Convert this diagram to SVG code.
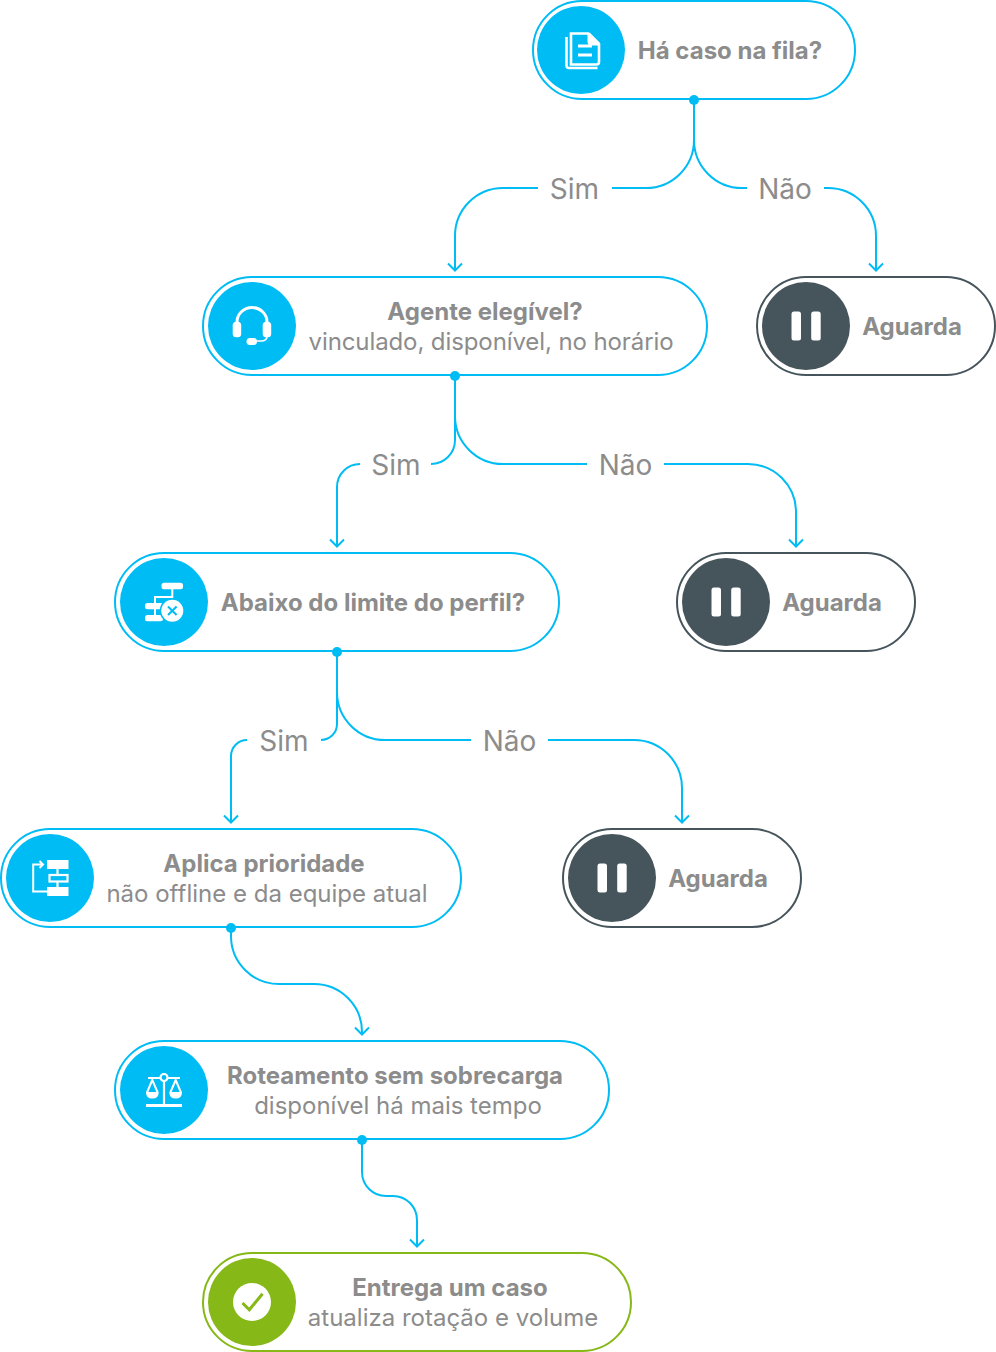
<svg xmlns="http://www.w3.org/2000/svg" width="996" height="1352" viewBox="0 0 996 1352">
<style>
text{font-family:Inter,"Noto Sans","Liberation Sans",sans-serif;fill:#8c8c8c;text-anchor:middle}
.t{font-size:24px;font-weight:700}
.s{font-size:24px;font-weight:400}
.l{font-size:28px;font-weight:400}
.pill{fill:#fff;stroke-width:2}
.b .pill{stroke:#00bcf5}.b .disc{fill:#00bcf5}
.g .pill{stroke:#86b817}.g .disc{fill:#86b817}
.d .pill{stroke:#46545b}.d .disc{fill:#46545b}
.ic{fill:#fff}
.il{fill:none;stroke:#fff;stroke-width:2.600}
#connectors path{fill:none;stroke:#00bcf5;stroke-width:2}
#connectors circle{fill:#00bcf5}
</style>
<defs>
<g id="pause"><rect x="-14.500" y="-14.500" width="9.500" height="29" rx="2.500" class="ic"/><rect x="5.200" y="-14.500" width="9.500" height="29" rx="2.500" class="ic"/></g>
</defs>
<g id="node-fila" class="b">
<rect class="pill" x="533" y="1" width="322" height="98" rx="49"/>
<circle class="disc" cx="581" cy="50" r="44"/>
<path class="il" d="M571 33.500H588.500L599 44V62Q599 64.500 596.500 64.500H571Z"/>
<path class="il" d="M566.500 37V65.500Q566.500 68 569 68H597.500"/>
<path class="ic" d="M587.500 33H590L600 43V45.500H591.500Q587.500 45.500 587.500 41.500Z"/>
<path class="il" d="M578 46H592M578 55H592" style="stroke-width:3"/>
<text class="t" x="730" y="59">Há caso na fila?</text>
</g>
<g id="node-agente" class="b">
<rect class="pill" x="203" y="277" width="504" height="98" rx="49"/>
<circle class="disc" cx="252" cy="326" r="44"/>
<path class="il" d="M237 322A15 14.500 0 0 1 267 322" style="stroke-width:3"/>
<rect class="ic" x="232.700" y="321.700" width="8.500" height="15.500" rx="3.500"/>
<rect class="ic" x="262.700" y="321.700" width="8.500" height="15.500" rx="3.500"/>
<path d="M267 336Q267 341 261 341H254" fill="none" stroke="#fff" stroke-width="1.600"/>
<rect class="ic" x="246.500" y="338" width="10.500" height="7" rx="3.500"/>
<text class="t" x="485" y="320">Agente elegível?</text>
<text class="s" x="491" y="350" style="letter-spacing:-.1px">vinculado, disponível, no horário</text>
</g>
<g id="node-aguarda-1" class="d">
<rect class="pill" x="757" y="277" width="238" height="98" rx="49"/>
<circle class="disc" cx="806" cy="326" r="44"/>
<use href="#pause" x="806" y="326"/>
<text class="t" x="912" y="335">Aguarda</text>
</g>
<g id="node-limite" class="b">
<rect class="pill" x="115" y="553" width="444" height="98" rx="49"/>
<circle class="disc" cx="164" cy="602" r="44"/>
<rect class="ic" x="161.500" y="582.800" width="21.500" height="6.500" rx="2.500"/>
<rect class="ic" x="145" y="603" width="18" height="6.200" rx="2.500"/>
<rect class="ic" x="145" y="615" width="18" height="6.200" rx="2.500"/>
<path d="M172.300 589V597H155V615" fill="none" stroke="#fff" stroke-width="2"/>
<circle cx="172.300" cy="610.700" r="12.500" fill="#00bcf5"/>
<circle cx="172.300" cy="610.700" r="11" fill="#fff"/>
<path d="M168 606.500L176.600 615M176.600 606.500L168 615" fill="none" stroke="#00bcf5" stroke-width="2"/>
<text class="t" x="373" y="611">Abaixo do limite do perfil?</text>
</g>
<g id="node-aguarda-2" class="d">
<rect class="pill" x="677" y="553" width="238" height="98" rx="49"/>
<circle class="disc" cx="726" cy="602" r="44"/>
<use href="#pause" x="726" y="602"/>
<text class="t" x="832" y="611">Aguarda</text>
</g>
<g id="node-prioridade" class="b">
<rect class="pill" x="1" y="829" width="460" height="98" rx="49"/>
<circle class="disc" cx="50" cy="878" r="44"/>
<rect class="ic" x="47" y="860" width="21.500" height="9"/>
<rect class="ic" x="47" y="887" width="21.500" height="9"/>
<rect x="49.500" y="875" width="18" height="6.500" fill="none" stroke="#fff" stroke-width="2.200"/>
<path d="M57.500 869V875M57.500 881V887" stroke="#fff" stroke-width="2.200" fill="none"/>
<path d="M47 891.500H33.200V864.500H42.500M39.500 861L43 864.500L39.500 868" fill="none" stroke="#fff" stroke-width="2"/>
<text class="t" x="264" y="872">Aplica prioridade</text>
<text class="s" x="267" y="902">não offline e da equipe atual</text>
</g>
<g id="node-aguarda-3" class="d">
<rect class="pill" x="563" y="829" width="238" height="98" rx="49"/>
<circle class="disc" cx="612" cy="878" r="44"/>
<use href="#pause" x="612" y="878"/>
<text class="t" x="718" y="887">Aguarda</text>
</g>
<g id="node-roteamento" class="b">
<rect class="pill" x="115" y="1041" width="494" height="98" rx="49"/>
<circle class="disc" cx="164" cy="1090" r="44"/>
<path class="il" d="M148 1078H160M168 1078H180M164 1082V1105" style="stroke-width:2.200"/>
<path class="il" d="M146 1105.500H182" style="stroke-width:3"/>
<circle cx="164" cy="1077.500" r="3.500" fill="none" stroke="#fff" stroke-width="2.200"/>
<path class="il" d="M152.300 1080L147 1092.500Q147 1097.500 152.300 1097.500Q157.700 1097.500 157.700 1092.500ZM175.700 1080L170.300 1092.500Q170.300 1097.500 175.700 1097.500Q181 1097.500 181 1092.500Z" style="stroke-width:2"/>
<path class="ic" d="M147 1092H157.700Q157.700 1097.500 152.300 1097.500Q147 1097.500 147 1092ZM170.300 1092H181Q181 1097.500 175.700 1097.500Q170.300 1097.500 170.300 1092Z"/>
<text class="t" x="395" y="1084">Roteamento sem sobrecarga</text>
<text class="s" x="398" y="1114">disponível há mais tempo</text>
</g>
<g id="node-entrega" class="g">
<rect class="pill" x="203" y="1253" width="428" height="98" rx="49"/>
<circle class="disc" cx="252" cy="1302" r="44"/>
<circle cx="252" cy="1302" r="19" fill="#fff"/>
<path d="M242.500 1303L249.300 1309.800L262.500 1293.800" fill="none" stroke="#86b817" stroke-width="3"/>
<text class="t" x="450" y="1296">Entrega um caso</text>
<text class="s" x="453" y="1326">atualiza rotação e volume</text>
</g>
<g id="connectors">
<path d="M694 100V140A48 48 0 0 1 646 188H612M538 188H503A48 48 0 0 0 455 236V270.500M448 263.500L455 270.500L462 263.500"/>
<path d="M694 140A48 48 0 0 0 742 188H747M824 188H828A48 48 0 0 1 876 236V270.500M869 263.500L876 270.500L883 263.500"/>
<circle cx="694" cy="100" r="5"/>
<path d="M455 376V440A24 24 0 0 1 431 464M360 464A23 23 0 0 0 337 487V546.500M330 539.500L337 546.500L344 539.500"/>
<path d="M455 416A48 48 0 0 0 503 464H587M664 464H748A48 48 0 0 1 796 512V546.500M789 539.500L796 546.500L803 539.500"/>
<circle cx="455" cy="376" r="5"/>
<path d="M337 652V724A16 16 0 0 1 321 740M247 740A16 16 0 0 0 231 756V822.500M224 815.500L231 822.500L238 815.500"/>
<path d="M337 692A48 48 0 0 0 385 740H471M548 740H634A48 48 0 0 1 682 788V822.500M675 815.500L682 822.500L689 815.500"/>
<circle cx="337" cy="652" r="5"/>
<path d="M231 928V936A48 48 0 0 0 279 984H314A48 48 0 0 1 362 1032V1034.500M355 1027.500L362 1034.500L369 1027.500"/>
<circle cx="231" cy="928" r="5"/>
<path d="M362 1140V1172A24 24 0 0 0 386 1196H393A24 24 0 0 1 417 1220V1246.500M410 1239.500L417 1246.500L424 1239.500"/>
<circle cx="362" cy="1140" r="5"/>
</g>
<g id="labels">
<text class="l" x="574.500" y="199">Sim</text>
<text class="l" x="785" y="199">Não</text>
<text class="l" x="396" y="475">Sim</text>
<text class="l" x="625.500" y="475">Não</text>
<text class="l" x="284" y="751">Sim</text>
<text class="l" x="509.500" y="751">Não</text>
</g>
</svg>
